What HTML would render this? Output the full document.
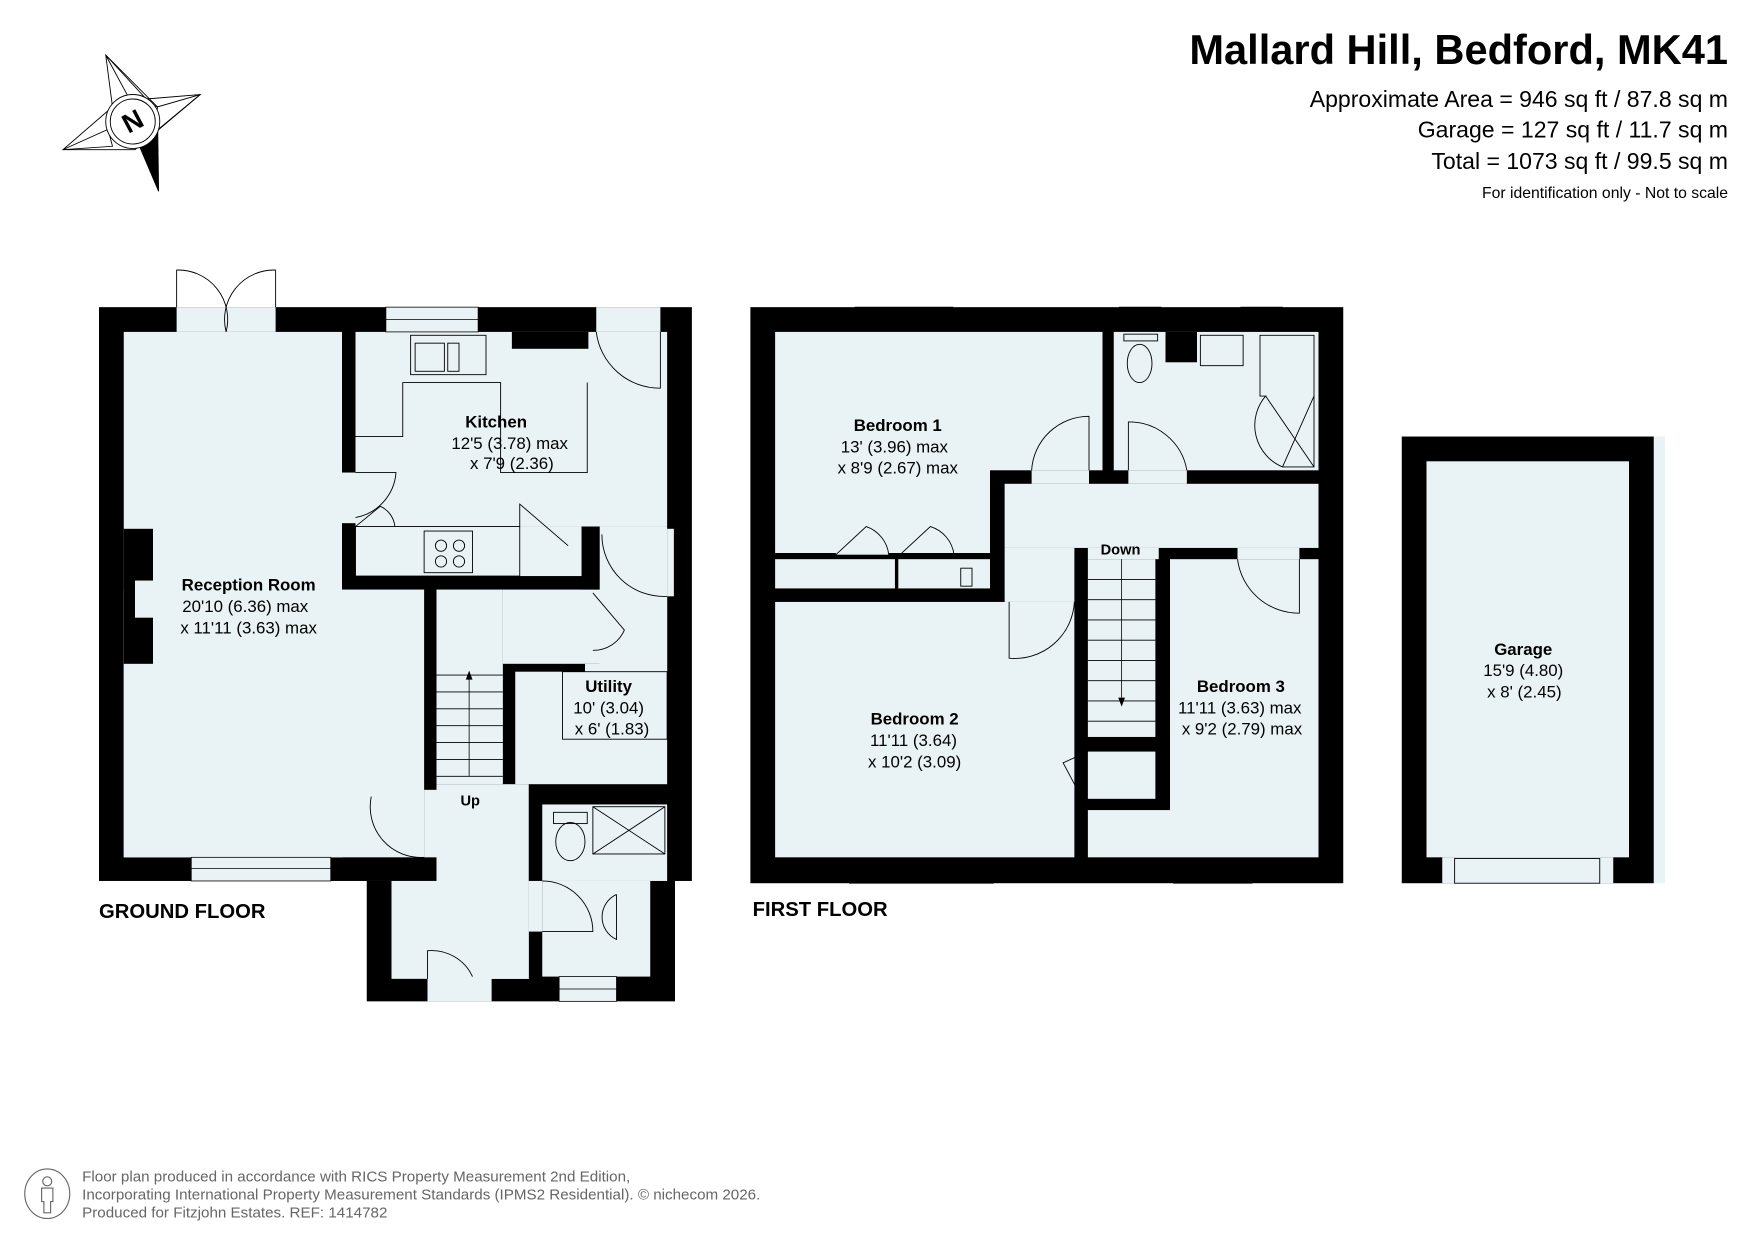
<!DOCTYPE html>
<html><head><meta charset="utf-8"><style>
html,body{margin:0;padding:0;background:#fff;}
svg{display:block;}
text{font-family:"Liberation Sans",Arial,sans-serif;}
</style></head><body>
<svg width="1755" height="1241" viewBox="0 0 1560 1103" preserveAspectRatio="none" xmlns="http://www.w3.org/2000/svg">
<rect width="1560" height="1103" fill="#fff"/>
<!-- header -->
<text x="1536" y="57" text-anchor="end" font-size="37" font-weight="bold" fill="#000">Mallard Hill, Bedford, MK41</text>
<text x="1536" y="95" text-anchor="end" font-size="20.5" fill="#000">Approximate Area = 946 sq ft / 87.8 sq m</text>
<text x="1536" y="122" text-anchor="end" font-size="20.5" fill="#000">Garage = 127 sq ft / 11.7 sq m</text>
<text x="1536" y="150" text-anchor="end" font-size="20.5" fill="#000">Total = 1073 sq ft / 99.5 sq m</text>
<text x="1536" y="176" text-anchor="end" font-size="14" fill="#000">For identification only - Not to scale</text>
<!-- compass -->
<g stroke="#000" stroke-width="0.8" fill="#fff">
<polygon points="94,49 114,86 140,95"/>
<polygon points="178,84 140,95 137,118"/>
<polygon points="56,133 96,115 100,130"/>
<polygon points="94,49 100,95 56,133 120,133 178,84 130,88" fill="none"/>
<polygon points="124,130 140,103 141,170" fill="#000"/>
<circle cx="118" cy="108" r="24"/>
<circle cx="118" cy="108" r="20"/>
</g>
<text x="118" y="116" text-anchor="middle" font-size="24" font-weight="bold" transform="rotate(-28 118 108)">N</text>

<!-- GROUND FLOOR -->
<g fill="#000">
<rect x="88" y="273" width="527" height="510"/>
<rect x="326" y="783" width="274" height="107"/>
</g>
<g fill="#e9f3f5">
<rect x="110" y="295" width="194" height="467"/>
<rect x="110" y="524" width="267" height="238"/>
<rect x="304" y="420" width="12" height="45"/>
<rect x="316" y="295" width="277" height="173"/>
<rect x="316" y="468" width="201" height="44"/>
<rect x="533" y="468" width="60" height="129"/>
<rect x="447" y="524" width="146" height="66"/>
<rect x="520" y="590" width="73" height="7"/>
<rect x="458" y="597" width="135" height="100"/>
<rect x="388" y="524" width="59" height="173"/>
<rect x="388" y="697" width="82" height="173"/>
<rect x="348" y="783" width="122" height="87"/>
<rect x="377" y="702" width="11" height="60"/>
<rect x="482" y="715" width="111" height="68"/>
<rect x="482" y="783" width="96" height="85"/>
<rect x="470" y="783" width="12" height="45"/>
<rect x="380" y="868" width="57" height="22"/>
<rect x="157" y="273" width="88" height="22"/>
<rect x="530" y="273" width="57" height="22"/>
<rect x="593" y="470" width="6" height="60"/>
</g>
<rect x="110" y="470" width="26" height="120" fill="#000"/>
<rect x="120" y="516" width="16" height="33" fill="#e9f3f5"/>
<rect x="455" y="295" width="68" height="15" fill="#000"/>
<rect x="517" y="468" width="16" height="56" fill="#000"/>
<g fill="#e9f3f5" stroke="#000" stroke-width="0.7">
<rect x="343" y="273" width="82" height="22"/>
<rect x="170" y="762" width="124" height="21"/>
<rect x="497" y="868" width="51" height="22"/>
<rect x="760" y="273" width="87" height="22"/>
<rect x="995" y="273" width="37" height="22"/>
<rect x="1103" y="273" width="37" height="22"/>
<rect x="755" y="763" width="128" height="22"/>
<rect x="1043" y="763" width="70" height="22"/>
</g>
<g stroke="#000" stroke-width="0.7">
<line x1="343" y1="284" x2="425" y2="284"/><line x1="170" y1="772" x2="294" y2="772"/>
<line x1="497" y1="879" x2="548" y2="879"/><line x1="760" y1="284" x2="847" y2="284"/>
<line x1="995" y1="284" x2="1032" y2="284"/><line x1="1103" y1="284" x2="1140" y2="284"/>
<line x1="755" y1="774" x2="883" y2="774"/><line x1="1043" y1="774" x2="1113" y2="774"/>
</g>
<g fill="none" stroke="#000" stroke-width="0.8">
<path d="M316,388 H358 V340 H445 V420 H522 V340"/>
<rect x="316" y="468" width="146" height="44"/>
<rect x="365" y="298" width="67" height="35"/>
<rect x="369" y="305" width="26" height="25"/><rect x="398" y="305" width="10" height="25"/>
<rect x="377" y="472" width="43" height="37"/>
<circle cx="392" cy="485" r="5"/><circle cx="408" cy="485" r="5"/><circle cx="392" cy="499" r="5"/><circle cx="408" cy="499" r="5"/>
<path d="M157,273 V240 A44,44 0 0 1 201,295"/><path d="M245,273 V240 A44,44 0 0 0 201,295"/>
<path d="M587,295 V345 A57,57 0 0 1 530,295"/>
<path d="M316,420 H352 A44,44 0 0 1 316,460"/>
<path d="M316,468 L338,450 A22,22 0 0 1 351,468"/>
<path d="M462,468 V448 L505,485"/>
<path d="M535,475 A55,55 0 0 0 593,530"/>
<path d="M527,527 L555,560 A30,30 0 0 1 527,578"/>
<rect x="500" y="597" width="93" height="60"/>
<rect x="492" y="722" width="30" height="10"/><ellipse cx="507" cy="748" rx="13" ry="17"/>
<rect x="527" y="717" width="64" height="42"/><path d="M527,717 L591,759 M591,717 L527,759"/>
<path d="M548,795 A22,22 0 0 0 548,835 V795"/>
<path d="M482,783 A45,45 0 0 1 527,828 H482"/>
<path d="M380,870 V845 A40,40 0 0 1 420,868"/>
<path d="M330,708 A45,45 0 0 0 377,762"/>
</g>
<g stroke="#000" stroke-width="0.7">
<line x1="388" y1="600" x2="447" y2="600"/><line x1="388" y1="615" x2="447" y2="615"/><line x1="388" y1="630" x2="447" y2="630"/>
<line x1="388" y1="645" x2="447" y2="645"/><line x1="388" y1="660" x2="447" y2="660"/><line x1="388" y1="675" x2="447" y2="675"/>
<line x1="388" y1="690" x2="447" y2="690"/><line x1="417" y1="600" x2="417" y2="690"/>
</g>
<polygon points="417,596 414,604 420,604" fill="#000"/>
<text x="418" y="716" text-anchor="middle" font-size="13" font-weight="bold">Up</text>
<g font-size="15" text-anchor="middle">
<text x="441" y="380" font-weight="bold">Kitchen</text>
<text x="453" y="399">12'5 (3.78) max</text>
<text x="455" y="417">x 7'9 (2.36)</text>
<text x="221" y="525" font-weight="bold">Reception Room</text>
<text x="218" y="544">20'10 (6.36) max</text>
<text x="221" y="563">x 11'11 (3.63) max</text>
<text x="541" y="615" font-weight="bold">Utility</text>
<text x="541" y="634">10' (3.04)</text>
<text x="544" y="653">x 6' (1.83)</text>
</g>
<text x="88" y="816" font-size="18" font-weight="bold">GROUND FLOOR</text>

<!-- FIRST FLOOR -->
<rect x="667" y="273" width="527" height="512" fill="#000"/>
<g fill="#e9f3f5">
<rect x="689" y="295" width="191" height="198"/>
<rect x="880" y="295" width="100" height="123"/>
<rect x="689" y="497" width="191" height="26"/>
<rect x="990" y="295" width="182" height="123"/>
<rect x="917" y="418" width="51" height="12"/>
<rect x="1003" y="418" width="52" height="12"/>
<rect x="893" y="430" width="279" height="57"/>
<rect x="893" y="487" width="62" height="48"/>
<rect x="967" y="487" width="63" height="10"/>
<rect x="1100" y="487" width="55" height="10"/>
<rect x="689" y="535" width="266" height="227"/>
<rect x="967" y="497" width="60" height="158"/>
<rect x="967" y="668" width="60" height="42"/>
<rect x="1040" y="497" width="132" height="265"/>
<rect x="967" y="720" width="73" height="42"/>
</g>
<rect x="1036" y="295" width="28" height="27" fill="#000"/>
<g fill="none" stroke="#000" stroke-width="0.8">
<line x1="689" y1="493" x2="743" y2="493" stroke-width="3"/><line x1="790" y1="493" x2="880" y2="493" stroke-width="3"/>
<line x1="797" y1="493" x2="797" y2="523" stroke-width="3"/>
<path d="M743,493 L770,468 A30,30 0 0 1 790,493"/><path d="M800,493 L827,468 A30,30 0 0 1 848,493"/>
<rect x="854" y="505" width="10" height="16"/>
<path d="M968,418 V370 A51,51 0 0 0 917,418"/>
<path d="M1003,418 V375 A52,52 0 0 1 1055,418"/>
<rect x="999" y="297" width="30" height="6"/><ellipse cx="1013" cy="323" rx="11" ry="17"/>
<rect x="1067" y="298" width="38" height="27"/>
<path d="M1120,298 H1168 V415 H1140 A40,40 0 0 1 1125,352 H1120 Z"/>
<path d="M1125,352 L1168,415 M1168,352 L1140,415"/>
<path d="M955,535 A53,53 0 0 1 897,585 V535"/>
<path d="M1100,497 A55,55 0 0 0 1155,545 V497"/>
<path d="M967,668 L945,678 L962,710"/>
</g>
<g stroke="#000" stroke-width="0.7">
<line x1="967" y1="515" x2="1027" y2="515"/><line x1="967" y1="533" x2="1027" y2="533"/><line x1="967" y1="551" x2="1027" y2="551"/>
<line x1="967" y1="569" x2="1027" y2="569"/><line x1="967" y1="587" x2="1027" y2="587"/><line x1="967" y1="605" x2="1027" y2="605"/>
<line x1="967" y1="623" x2="1027" y2="623"/><line x1="967" y1="641" x2="1027" y2="641"/><line x1="997" y1="497" x2="997" y2="620"/>
</g>
<polygon points="997,628 994,620 1000,620" fill="#000"/>
<text x="996" y="493" text-anchor="middle" font-size="13" font-weight="bold">Down</text>
<g font-size="15" text-anchor="middle">
<text x="798" y="383" font-weight="bold">Bedroom 1</text>
<text x="795" y="402">13' (3.96) max</text>
<text x="798" y="421">x 8'9 (2.67) max</text>
<text x="813" y="644" font-weight="bold">Bedroom 2</text>
<text x="812" y="663">11'11 (3.64)</text>
<text x="813" y="682">x 10'2 (3.09)</text>
<text x="1103" y="615" font-weight="bold">Bedroom 3</text>
<text x="1102" y="634">11'11 (3.63) max</text>
<text x="1104" y="653">x 9'2 (2.79) max</text>
</g>
<text x="669" y="814" font-size="18" font-weight="bold">FIRST FLOOR</text>

<!-- GARAGE -->
<rect x="1470" y="388" width="10" height="397" fill="#e9f3f5"/>
<rect x="1246" y="388" width="224" height="397" fill="#000"/>
<rect x="1268" y="410" width="180" height="352" fill="#e9f3f5"/>
<rect x="1282" y="762" width="152" height="23" fill="#e9f3f5"/>
<rect x="1293" y="763" width="129" height="22" fill="#e9f3f5" stroke="#000" stroke-width="0.8"/>
<g font-size="15" text-anchor="middle">
<text x="1354" y="582" font-weight="bold">Garage</text>
<text x="1354" y="601">15'9 (4.80)</text>
<text x="1355" y="620">x 8' (2.45)</text>
</g>

<!-- footer -->
<g fill="none" stroke="#666" stroke-width="1">
<ellipse cx="42" cy="1061" rx="20" ry="22"/>
<circle cx="42" cy="1050" r="4"/>
<path d="M37,1056 H47 V1068 H45 V1078 H39 V1068 H37 Z"/>
</g>
<g font-size="13.5" fill="#666">
<text x="73" y="1050">Floor plan produced in accordance with RICS Property Measurement 2nd Edition,</text>
<text x="73" y="1066">Incorporating International Property Measurement Standards (IPMS2 Residential).   © nichecom 2026.</text>
<text x="73" y="1082">Produced for Fitzjohn Estates.   REF: 1414782</text>
</g>
</svg>
</body></html>
